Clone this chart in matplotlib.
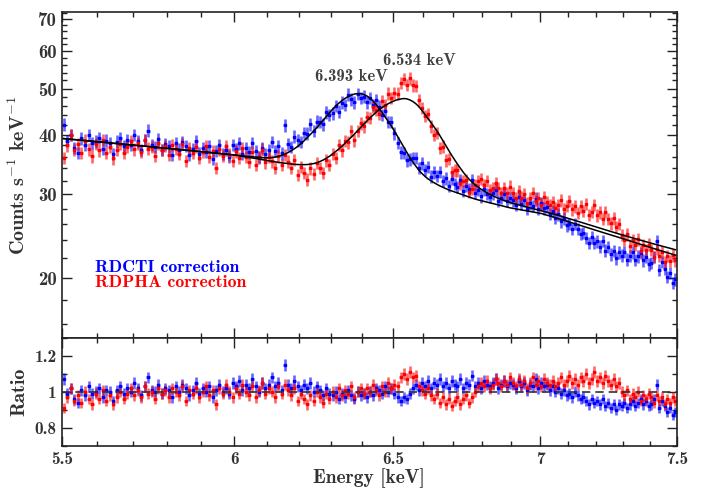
import numpy as np
import matplotlib
matplotlib.use('agg')
import matplotlib.pyplot as plt
from matplotlib.ticker import FixedLocator, FixedFormatter, NullFormatter
from matplotlib.colors import to_rgba

plt.rcParams['font.family'] = ['cmb10', 'DejaVu Serif']
plt.rcParams['mathtext.fontset'] = 'cm'
plt.rcParams['axes.unicode_minus'] = False

# energy bins (keV), 10 eV wide
energy = np.linspace(5.505, 7.495, 200)
half_bin = 0.005
rel_err = 0.03

# best-fit model, RDCTI correction
model_ctI = [39.27, 39.20, 39.14, 39.08, 39.02, 38.95, 38.89, 38.83, 38.77, 38.70,
             38.64, 38.58, 38.52, 38.46, 38.40, 38.33, 38.27, 38.21, 38.15, 38.09,
             38.03, 37.97, 37.91, 37.85, 37.79, 37.73, 37.67, 37.61, 37.55, 37.49,
             37.43, 37.37, 37.31, 37.25, 37.19, 37.13, 37.07, 37.01, 36.95, 36.89,
             36.83, 36.77, 36.71, 36.66, 36.60, 36.54, 36.48, 36.42, 36.36, 36.31,
             36.25, 36.19, 36.13, 36.07, 36.02, 35.96, 35.90, 35.85, 35.80, 35.78,
             35.78, 35.82, 35.90, 36.02, 36.20, 36.42, 36.70, 37.03, 37.40, 37.80,
             38.30, 38.85, 39.45, 40.05, 40.70, 41.40, 42.15, 42.90, 43.70, 44.50,
             45.25, 45.95, 46.60, 47.20, 47.70, 48.10, 48.45, 48.70, 48.80, 48.80,
             48.60, 48.25, 47.75, 47.10, 46.30, 45.40, 44.50, 43.55, 42.60, 41.70,
             40.70, 39.70, 38.70, 37.75, 36.80, 35.90, 35.10, 34.40, 33.75, 33.20,
             32.75, 32.35, 32.05, 31.75, 31.50, 31.25, 31.05, 30.85, 30.65, 30.50,
             30.35, 30.20, 30.05, 29.90, 29.75, 29.60, 29.45, 29.32, 29.20, 29.10,
             29.00, 28.90, 28.80, 28.70, 28.60, 28.50, 28.40, 28.30, 28.20, 28.10,
             28.03, 27.96, 27.89, 27.82, 27.75, 27.68, 27.61, 27.54, 27.47, 27.40,
             27.34, 27.23, 27.12, 27.01, 26.90, 26.79, 26.68, 26.57, 26.46, 26.35,
             26.24, 26.13, 26.02, 25.91, 25.80, 25.69, 25.58, 25.47, 25.36, 25.25,
             25.15, 25.05, 24.95, 24.85, 24.75, 24.65, 24.55, 24.45, 24.35, 24.25,
             24.15, 24.05, 23.95, 23.85, 23.75, 23.65, 23.55, 23.45, 23.35, 23.25,
             23.16, 23.07, 22.98, 22.89, 22.80, 22.71, 22.62, 22.53, 22.44, 22.35]

# best-fit model, RDPHA correction
model_pha = [39.27, 39.20, 39.14, 39.08, 39.02, 38.95, 38.89, 38.83, 38.77, 38.70,
             38.64, 38.58, 38.52, 38.46, 38.40, 38.33, 38.27, 38.21, 38.15, 38.09,
             38.03, 37.97, 37.91, 37.85, 37.79, 37.73, 37.67, 37.61, 37.55, 37.49,
             37.43, 37.37, 37.31, 37.25, 37.19, 37.13, 37.07, 37.01, 36.95, 36.89,
             36.83, 36.77, 36.71, 36.66, 36.60, 36.54, 36.48, 36.42, 36.36, 36.31,
             36.22, 36.14, 36.05, 35.96, 35.86, 35.76, 35.66, 35.56, 35.46, 35.36,
             35.27, 35.18, 35.09, 35.01, 34.93, 34.86, 34.79, 34.73, 34.68, 34.64,
             34.62, 34.62, 34.64, 34.70, 34.80, 34.95, 35.15, 35.40, 35.70, 36.05,
             36.45, 36.90, 37.35, 37.85, 38.40, 38.95, 39.55, 40.15, 40.80, 41.45,
             42.10, 42.75, 43.40, 44.00, 44.60, 45.15, 45.65, 46.10, 46.50, 46.85,
             47.15, 47.40, 47.55, 47.65, 47.60, 47.35, 47.00, 46.50, 45.85, 45.05,
             44.20, 43.35, 42.50, 41.65, 40.80, 39.90, 38.95, 38.00, 37.10, 36.25,
             35.45, 34.70, 34.00, 33.35, 32.75, 32.25, 31.80, 31.40, 31.05, 30.75,
             30.48, 30.23, 30.00, 29.79, 29.60, 29.42, 29.26, 29.11, 28.97, 28.84,
             28.72, 28.61, 28.50, 28.40, 28.30, 28.20, 28.10, 28.00, 27.90, 27.80,
             27.71, 27.61, 27.51, 27.41, 27.31, 27.21, 27.10, 26.99, 26.88, 26.77,
             26.66, 26.55, 26.44, 26.33, 26.22, 26.11, 26.00, 25.89, 25.78, 25.67,
             25.56, 25.46, 25.36, 25.26, 25.16, 25.06, 24.96, 24.86, 24.76, 24.66,
             24.57, 24.48, 24.39, 24.30, 24.21, 24.12, 24.03, 23.94, 23.85, 23.76,
             23.67, 23.59, 23.51, 23.43, 23.35, 23.27, 23.19, 23.11, 23.03, 22.95]

# data / model
ratio_cti = [1.07, 0.99, 1.02, 0.96, 0.94, 1.01, 0.98, 1.03, 0.99, 1.00,
             1.02, 0.97, 1.01, 1.00, 0.95, 1.01, 1.03, 0.99, 1.02, 1.00,
             1.05, 1.02, 0.98, 1.03, 1.08, 1.01, 1.00, 1.04, 0.99, 1.02,
             1.01, 0.97, 1.03, 1.00, 1.04, 1.02, 0.98, 1.01, 1.05, 0.99,
             1.02, 1.00, 1.03, 0.97, 1.01, 1.04, 1.00, 1.02, 0.99, 1.05,
             1.03, 1.06, 1.01, 1.04, 1.02, 1.07, 1.03, 1.00, 1.05, 1.02,
             1.04, 1.08, 1.03, 1.05, 1.01, 1.15, 1.04, 1.02, 1.06, 1.03,
             1.01, 1.04, 1.02, 1.05, 1.00, 1.03, 1.01, 0.98, 1.02, 0.99,
             0.98, 1.00, 0.96, 0.99, 0.97, 1.01, 0.98, 0.96, 1.00, 0.98,
             0.99, 0.97, 1.00, 0.98, 1.02, 1.01, 0.99, 1.03, 1.00, 1.02,
             0.99, 0.97, 0.95, 0.97, 0.96, 0.99, 1.02, 1.04, 1.01, 1.05,
             1.03, 1.06, 1.02, 1.05, 1.04, 1.07, 1.03, 1.05, 1.02, 1.06,
             1.04, 1.03, 1.07, 1.02, 1.05, 1.04, 1.09, 1.03, 1.05, 1.02,
             1.06, 1.04, 1.03, 1.05, 1.07, 1.02, 1.04, 1.06, 1.03, 1.05,
             1.04, 1.02, 1.06, 1.03, 1.05, 1.01, 1.04, 1.03, 1.07, 1.02,
             1.05, 1.03, 1.04, 1.01, 1.03, 1.00, 1.02, 0.99, 1.01, 0.98,
             0.99, 0.97, 1.00, 0.98, 0.96, 0.97, 0.95, 0.93, 0.96, 0.94,
             0.95, 0.93, 0.96, 0.92, 0.94, 0.91, 0.93, 0.90, 0.93, 0.92,
             0.94, 0.91, 0.93, 0.95, 0.92, 0.94, 0.96, 0.93, 0.95, 0.92,
             0.93, 0.96, 1.04, 0.91, 0.95, 0.92, 0.89, 0.91, 0.87, 0.89]

ratio_pha = [0.91, 0.97, 1.02, 0.95, 0.98, 0.94, 1.00, 0.96, 0.93, 0.99,
             0.96, 1.01, 0.95, 0.98, 0.93, 0.97, 1.00, 0.96, 0.99, 1.02,
             0.98, 1.01, 0.97, 1.03, 0.99, 1.00, 0.96, 1.02, 0.99, 1.01,
             0.97, 1.02, 1.00, 0.98, 1.03, 0.95, 1.01, 0.99, 1.02, 0.97,
             1.00, 1.03, 0.98, 1.01, 0.93, 1.02, 0.99, 1.04, 1.00, 0.97,
             1.02, 0.99, 1.04, 1.00, 0.98, 1.03, 0.97, 1.01, 1.05, 0.99,
             1.02, 1.00, 0.97, 1.03, 0.99, 1.04, 1.01, 0.98, 1.02, 0.95,
             0.99, 0.96, 0.93, 0.98, 0.95, 1.00, 0.97, 0.94, 0.99, 0.96,
             1.00, 0.97, 1.02, 0.98, 1.01, 0.99, 1.03, 0.97, 1.00, 1.02,
             0.99, 1.02, 1.00, 1.04, 1.01, 0.98, 1.03, 1.00, 1.05, 1.02,
             1.04, 1.03, 1.08, 1.10, 1.07, 1.11, 1.08, 1.09, 1.03, 1.01,
             0.99, 1.02, 0.98, 0.96, 0.99, 0.94, 0.97, 0.93, 0.96, 0.92,
             0.95, 0.97, 0.93, 0.96, 0.98, 0.94, 0.97, 1.00, 1.03, 1.05,
             1.03, 1.06, 1.02, 1.04, 1.07, 1.05, 1.03, 1.06, 1.04, 1.08,
             1.05, 1.03, 1.07, 1.04, 1.06, 1.02, 1.05, 1.08, 1.04, 1.06,
             1.03, 1.07, 1.05, 1.04, 1.06, 1.03, 1.05, 1.08, 1.04, 1.06,
             1.09, 1.05, 1.07, 1.04, 1.08, 1.06, 1.10, 1.05, 1.07, 1.11,
             1.06, 1.08, 1.05, 1.09, 1.06, 1.04, 1.07, 1.03, 1.05, 1.00,
             0.98, 1.01, 0.96, 0.99, 0.97, 1.00, 0.95, 0.98, 0.96, 0.99,
             0.97, 0.94, 0.98, 0.95, 0.97, 0.93, 0.96, 0.94, 0.97, 0.95]

line_labels = ['6.393 keV', '6.534 keV']
series_names = ['RDCTI correction', 'RDPHA correction']

x_major = [5.5, 6.0, 6.5, 7.0, 7.5]
x_major_lab = ['5.5', '6', '6.5', '7', '7.5']
x_minor = [5.6, 5.7, 5.8, 5.9, 6.1, 6.2, 6.3, 6.4, 6.6, 6.7, 6.8, 6.9,
           7.1, 7.2, 7.3, 7.4]
y_major = [20, 30, 40, 50, 60, 70]
y_minor = [16, 18, 22, 24, 26, 28, 32, 34, 36, 38, 42, 44, 46, 48,
           52, 54, 56, 58, 62, 64, 66, 68, 72]
r_major = [0.8, 1.0, 1.2]
r_major_lab = ['0.8', '1', '1.2']
r_minor = [0.7, 0.9, 1.1, 1.3]

txt = '#333333'
cols = ['#0000ff', '#ff0000']

fig = plt.figure(figsize=(7.03, 4.88), dpi=100)
ax1 = fig.add_axes([0.0878, 0.308, 0.8748, 0.6674])
ax2 = fig.add_axes([0.0878, 0.0861, 0.8748, 0.2219])

models = [np.array(model_ctI), np.array(model_pha)]
ratios = [np.array(ratio_cti), np.array(ratio_pha)]

for m, r, c in zip(models, ratios, cols):
    cnt = m * r
    ax1.errorbar(energy, cnt, yerr=rel_err*cnt, xerr=half_bin, fmt='s', ms=1.8,
                 mfc=c, mec=c, ecolor=to_rgba(c, 0.6), elinewidth=1.9,
                 capsize=0, zorder=2)
    ax2.errorbar(energy, r, yerr=rel_err*r, xerr=half_bin, fmt='s', ms=1.8,
                 mfc=c, mec=c, ecolor=to_rgba(c, 0.6), elinewidth=1.9,
                 capsize=0, zorder=2)

for m in models:
    ax1.plot(energy, m, color='k', lw=1.1, zorder=3)
ax2.axhline(1.0, color='#333333', lw=1.2, ls=(0, (5, 3)), zorder=3)

for ax in (ax1, ax2):
    ax.set_xscale('log')
    ax.set_xlim(5.5, 7.5)
    ax.xaxis.set_major_locator(FixedLocator(x_major))
    ax.xaxis.set_minor_locator(FixedLocator(x_minor))
    ax.xaxis.set_minor_formatter(NullFormatter())
    ax.tick_params(which='both', direction='in', top=True, right=True,
                   colors='#222222', labelcolor=txt, labelsize=12.5, width=1.0)
    ax.tick_params(which='major', length=7)
    ax.tick_params(which='minor', length=3.6)
    for s in ax.spines.values():
        s.set_linewidth(1.2)
        s.set_color('#222222')

ax1.xaxis.set_major_formatter(NullFormatter())
ax2.xaxis.set_major_formatter(FixedFormatter(x_major_lab))
ax2.tick_params(axis='x', which='major', pad=4)
ax1.tick_params(axis='y', which='major', labelsize=13.5)

ax1.set_yscale('log')
ax1.set_ylim(15, 72.4)
ax1.yaxis.set_major_locator(FixedLocator(y_major))
ax1.yaxis.set_major_formatter(FixedFormatter([str(v) for v in y_major]))
ax1.yaxis.set_minor_locator(FixedLocator(y_minor))
ax1.yaxis.set_minor_formatter(NullFormatter())

ax2.set_ylim(0.7, 1.3)
ax2.yaxis.set_major_locator(FixedLocator(r_major))
ax2.yaxis.set_major_formatter(FixedFormatter(r_major_lab))
ax2.yaxis.set_minor_locator(FixedLocator(r_minor))

ax1.set_ylabel(r'Counts s$^{-1}$ keV$^{-1}$', fontsize=14.5, color=txt)
ax1.yaxis.set_label_coords(-0.054, 0.5)
ax2.set_ylabel('Ratio', fontsize=14.5, color=txt)
ax2.yaxis.set_label_coords(-0.054, 0.5)
ax2.set_xlabel('Energy [keV]', fontsize=14, color=txt)
ax2.xaxis.set_label_coords(0.5, -0.205)

ax1.text(6.364, 52.9, line_labels[0], fontsize=12, color='#404040',
         ha='center', va='center')
ax1.text(6.589, 57.4, line_labels[1], fontsize=12, color='#404040',
         ha='center', va='center')

ax1.text(0.054, 0.217, series_names[0], transform=ax1.transAxes,
         fontsize=12.8, color=cols[0], va='center')
ax1.text(0.054, 0.168, series_names[1], transform=ax1.transAxes,
         fontsize=12.8, color=cols[1], va='center')

fig.savefig('out.png', dpi=100)
